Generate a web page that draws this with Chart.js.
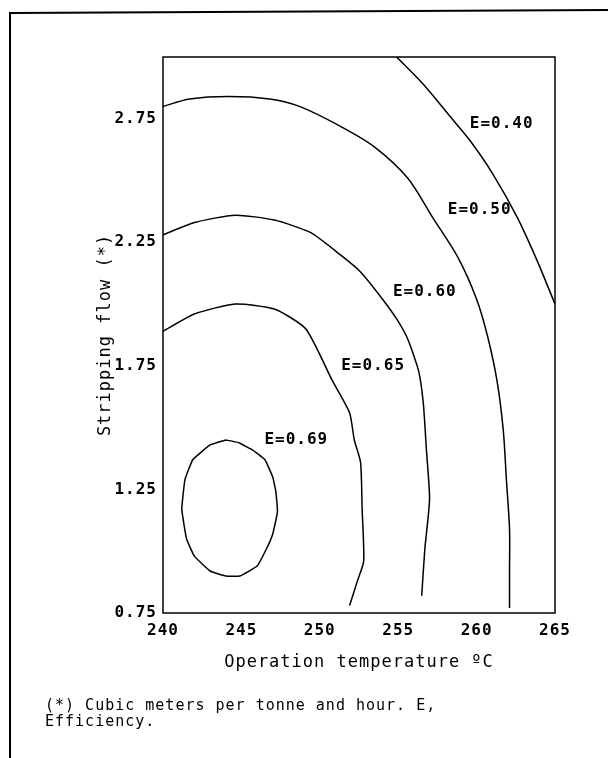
<!DOCTYPE html>
<html>
<head>
<meta charset="utf-8">
<script src="https://cdn.jsdelivr.net/npm/chart.js@4.4.1/dist/chart.umd.min.js"></script>
<style>
html, body { margin: 0; padding: 0; background: #fff; }
</style>
</head>
<body>
<canvas id="chart_efficiencyContours" width="608" height="758"></canvas>
<script>
// values: operation temperature (C) vs stripping flow
const xTicks = [240, 245, 250, 255, 260, 265];
const yTicks = [0.75, 1.25, 1.75, 2.25, 2.75];

const e40Temp = [254.9, 256.6, 258.3, 259.6, 261.0, 262.6, 263.9, 265.0];
const e40Flow = [3.00, 2.89, 2.76, 2.66, 2.53, 2.35, 2.17, 2.00];

const e50Temp = [240.0, 241.7, 244.2, 246.8, 248.7, 251.3, 253.4, 255.6, 257.2, 258.8, 260.0, 260.7, 261.3, 261.7, 261.9, 262.1, 262.1, 262.1];
const e50Flow = [2.80, 2.83, 2.84, 2.83, 2.80, 2.72, 2.64, 2.51, 2.35, 2.19, 2.02, 1.87, 1.69, 1.49, 1.29, 1.09, 0.92, 0.77];

const e60Temp = [240.0, 242.0, 244.6, 247.1, 249.4, 251.3, 252.6, 254.0, 254.9, 255.6, 256.3, 256.6, 256.8, 257.0, 256.7, 256.5];
const e60Flow = [2.28, 2.33, 2.36, 2.34, 2.29, 2.20, 2.13, 2.02, 1.94, 1.86, 1.73, 1.60, 1.41, 1.21, 1.01, 0.82];

const e65Temp = [240.0, 242.0, 244.6, 247.1, 249.1, 250.8, 251.9, 252.2, 252.6, 252.7, 252.8, 252.4, 251.9];
const e65Flow = [1.89, 1.96, 2.00, 1.98, 1.90, 1.69, 1.56, 1.45, 1.36, 1.17, 0.96, 0.88, 0.78];

const e69Temp = [244.0, 244.8, 245.7, 246.5, 247.0, 247.2, 247.3, 247.0, 246.6, 246.0, 244.9, 244.0, 243.0, 242.0, 241.5, 241.2, 241.4, 241.9, 243.0, 244.0];
const e69Flow = [1.45, 1.44, 1.41, 1.37, 1.30, 1.24, 1.16, 1.07, 1.01, 0.94, 0.90, 0.90, 0.92, 0.98, 1.05, 1.17, 1.29, 1.37, 1.43, 1.45];

const labelText = ['E=0.40', 'E=0.50', 'E=0.60', 'E=0.65', 'E=0.69'];
const labelTemp = [261.6, 260.2, 256.7, 253.4, 248.5];
const labelFlow = [2.73, 2.38, 2.05, 1.75, 1.45];

const footnote = ['(*) Cubic meters per tonne and hour. E,', 'Efficiency.'];

const FONT = "'DejaVu Sans Mono', monospace";

function points(xs, ys) {
    return xs.map((x, i) => ({x: x, y: ys[i]}));
}

function contour(label, xs, ys, tension) {
    return {
        label: label,
        data: points(xs, ys),
        showLine: true,
        pointRadius: 0,
        borderColor: '#000',
        borderWidth: 1.5,
        tension: tension,
        fill: false
    };
}

var chart_efficiencyContours = new Chart(document.getElementById('chart_efficiencyContours'), {
    type: 'scatter',
    data: {
        datasets: [
            contour('E=0.40', e40Temp, e40Flow, 0.3),
            contour('E=0.50', e50Temp, e50Flow, 0.3),
            contour('E=0.60', e60Temp, e60Flow, 0.2),
            contour('E=0.65', e65Temp, e65Flow, 0.2),
            contour('E=0.69', e69Temp, e69Flow, 0.1)
        ]
    },
    options: {
        animation: false,
        responsive: false,
        devicePixelRatio: 1,
        layout: {
            padding: {left: 45, right: 53, top: 57, bottom: 28}
        },
        plugins: {
            legend: {display: false},
            tooltip: {enabled: false},
            title: {
                display: true,
                position: 'bottom',
                align: 'start',
                text: footnote,
                color: '#000',
                font: {family: FONT, size: 15, weight: 'normal', lineHeight: '16px'},
                padding: {top: 0, bottom: 0}
            }
        },
        scales: {
            x: {
                type: 'linear',
                min: 240,
                max: 265,
                border: {display: false},
                grid: {display: false, drawTicks: false},
                afterBuildTicks: (scale) => { scale.ticks = xTicks.map(v => ({value: v})); },
                afterFit: (scale) => { scale.height = 85; },
                ticks: {
                    color: '#000',
                    padding: 8,
                    maxRotation: 0,
                    autoSkip: false,
                    font: {family: FONT, size: 16, weight: 'bold'},
                    callback: (v) => String(v)
                },
                title: {
                    display: true,
                    text: 'Operation temperature ºC',
                    color: '#000',
                    font: {family: FONT, size: 17, weight: 'normal'},
                    padding: {top: 0, bottom: 25}
                }
            },
            y: {
                type: 'linear',
                min: 0.75,
                max: 3.0,
                border: {display: false},
                grid: {display: false, drawTicks: false},
                afterBuildTicks: (scale) => { scale.ticks = yTicks.map(v => ({value: v})); },
                afterFit: (scale) => { scale.width = 118; },
                ticks: {
                    color: '#000',
                    padding: 6,
                    autoSkip: false,
                    font: {family: FONT, size: 16, weight: 'bold'},
                    callback: (v) => v.toFixed(2)
                },
                title: {
                    display: true,
                    text: 'Stripping flow (*)',
                    color: '#000',
                    font: {family: FONT, size: 17, weight: 'normal'},
                    padding: {top: 50, bottom: 0}
                }
            }
        }
    },
    plugins: [{
        id: 'paperFrame',
        beforeUpdate: (chart) => {
            chart.ctx.letterSpacing = '1px';
        },
        beforeDraw: (chart) => {
            const ctx = chart.ctx;
            ctx.save();
            ctx.fillStyle = 'white';
            ctx.fillRect(0, 0, chart.width, chart.height);
            ctx.restore();
            ctx.letterSpacing = '1px';
        },
        afterDraw: (chart) => {
            const ctx = chart.ctx;
            const a = chart.chartArea;
            const xs = chart.scales.x, ys = chart.scales.y;
            ctx.save();
            ctx.strokeStyle = '#000';
            // plot box
            ctx.lineWidth = 1.5;
            ctx.strokeRect(a.left, a.top, a.right - a.left, a.bottom - a.top);
            // page frame
            ctx.lineWidth = 2;
            ctx.beginPath();
            ctx.moveTo(10, chart.height);
            ctx.lineTo(10, 13);
            ctx.lineTo(chart.width, 10);
            ctx.stroke();
            // contour labels
            ctx.fillStyle = '#000';
            ctx.font = "bold 16px " + FONT;
            ctx.textAlign = 'center';
            ctx.textBaseline = 'middle';
            labelText.forEach((t, i) => {
                ctx.fillText(t, xs.getPixelForValue(labelTemp[i]), ys.getPixelForValue(labelFlow[i]));
            });
            ctx.restore();
        }
    }]
});
</script>
</body>
</html>
